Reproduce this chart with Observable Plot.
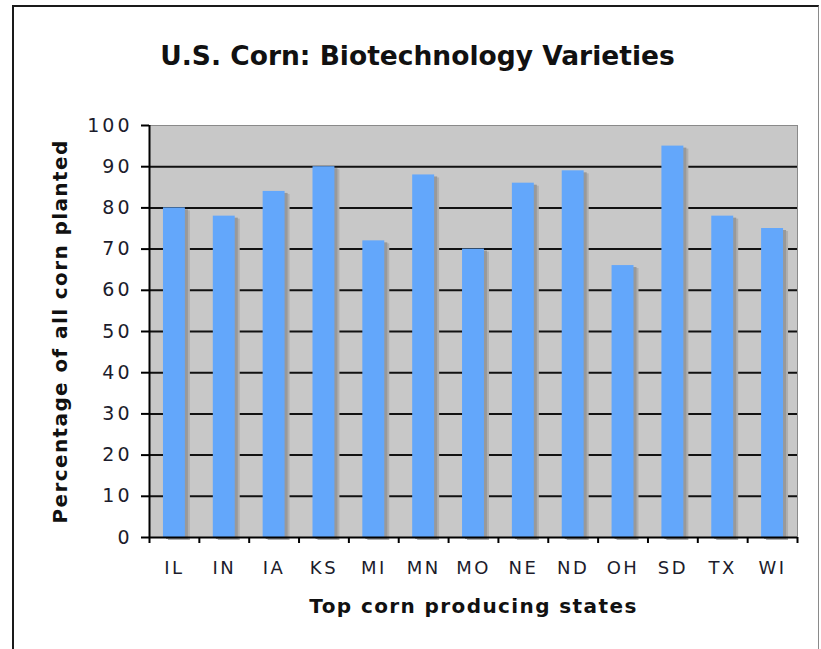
<!DOCTYPE html>
<html>
<head>
<meta charset="utf-8">
<script src="https://cdn.jsdelivr.net/npm/d3@7"></script>
<script src="https://cdn.jsdelivr.net/npm/@observablehq/plot@0.6"></script>
<style>
  html, body { margin: 0; padding: 0; background: #fff; }
  #wrap { position: relative; width: 821px; height: 649px; overflow: hidden; }
  #frame { position: absolute; left: 12px; top: 5px; width: 804px; height: 700px;
           border-left: 2px solid #1a1a1a; border-top: 2px solid #1a1a1a; border-right: 1px solid #8a8a8a; }
  #chart { position: absolute; left: 0; top: 0; }
  #chart svg { overflow: visible; }
  #chart g[aria-label="y-axis tick label"] text { letter-spacing: 3px; }
  #chart g[aria-label="x-axis tick label"] text { letter-spacing: 2.5px; }
</style>
</head>
<body>
<div id="wrap"><div id="frame"></div><div id="chart"></div></div>
<script>
const states = ["IL", "IN", "IA", "KS", "MI", "MN", "MO", "NE", "ND", "OH", "SD", "TX", "WI"];
const percent = [80, 78, 84, 90, 72, 88, 70, 86, 89, 66, 95, 78, 75];
const yTicks = [0, 10, 20, 30, 40, 50, 60, 70, 80, 90, 100];
const gridLines = [10, 20, 30, 40, 50, 60, 70, 80, 90];
const title = "U.S. Corn: Biotechnology Varieties";
const xTitle = "Top corn producing states";
const yTitle = "Percentage of all corn planted";

const data = states.map((s, i) => ({state: s, i, value: percent[i]}));
const barLo = 0.28, barHi = 0.72;

const chart = Plot.plot({
  width: 821,
  height: 649,
  marginLeft: 149,
  marginRight: 24,
  marginTop: 125,
  marginBottom: 112,
  style: {fontFamily: "DejaVu Sans, Verdana, sans-serif", background: "transparent"},
  x: {domain: [0, states.length], axis: null},
  y: {domain: [0, 100], axis: null},
  marks: [
    Plot.frame({fill: "#c8c8c8", stroke: "#8a8a8a", strokeWidth: 1}),
    Plot.ruleY(gridLines, {stroke: "#111", strokeWidth: 2}),
    // soft shadow to the right of bars
    Plot.rect(data, {x1: d => d.i + barLo, x2: d => d.i + barHi, y1: 0, y2: "value", dx: 5, dy: 3, fill: "#b0b0b0"}),
    Plot.rect(data, {x1: d => d.i + barLo, x2: d => d.i + barHi, y1: 0, y2: "value", dx: 3, dy: 2, fill: "#999999"}),
    Plot.rect(data, {x1: d => d.i + barLo, x2: d => d.i + barHi, y1: 0, y2: "value", fill: "#63a7fb"}),
    // axes lines
    Plot.ruleX([0], {stroke: "#000", strokeWidth: 2}),
    Plot.ruleY([0], {stroke: "#000", strokeWidth: 2}),
    Plot.axisY({ticks: yTicks, tickSize: 8, tickPadding: 9, fontSize: 19, stroke: "#000",
                strokeWidth: 2, color: "#1c1c2c", label: null}),
    Plot.axisX({ticks: d3.range(0, states.length + 1), tickSize: 6, stroke: "#000", strokeWidth: 2,
                tickFormat: () => "", label: null}),
    Plot.axisX({ticks: states.map((s, i) => i + 0.5), tickSize: 0, tickPadding: 24, fontSize: 18,
                color: "#1c1c2c", tickFormat: v => states[Math.floor(v)], label: null}),
    Plot.text([xTitle], {frameAnchor: "bottom", lineAnchor: "middle", dy: 69,
                fontSize: 20, fontWeight: "bold", fill: "#111"}),
    Plot.text([yTitle], {frameAnchor: "left", textAnchor: "middle", lineAnchor: "middle",
                dx: -89, rotate: -90, fontSize: 20, fontWeight: "bold", fill: "#111"}),
    Plot.text([title], {frameAnchor: "top", lineAnchor: "middle", dx: -56, dy: -69,
                fontSize: 26.5, fontWeight: "bold", fill: "#111"})
  ]
});
// widen the axis titles slightly, like the original's wide bold face
const spacing = new Map([[xTitle, "1.4px"], [yTitle, "1.4px"]]);
d3.select(chart).selectAll("text").each(function() {
  const s = spacing.get(this.textContent);
  if (s) this.style.letterSpacing = s;
});
document.getElementById("chart").appendChild(chart);
</script>
</body>
</html>
